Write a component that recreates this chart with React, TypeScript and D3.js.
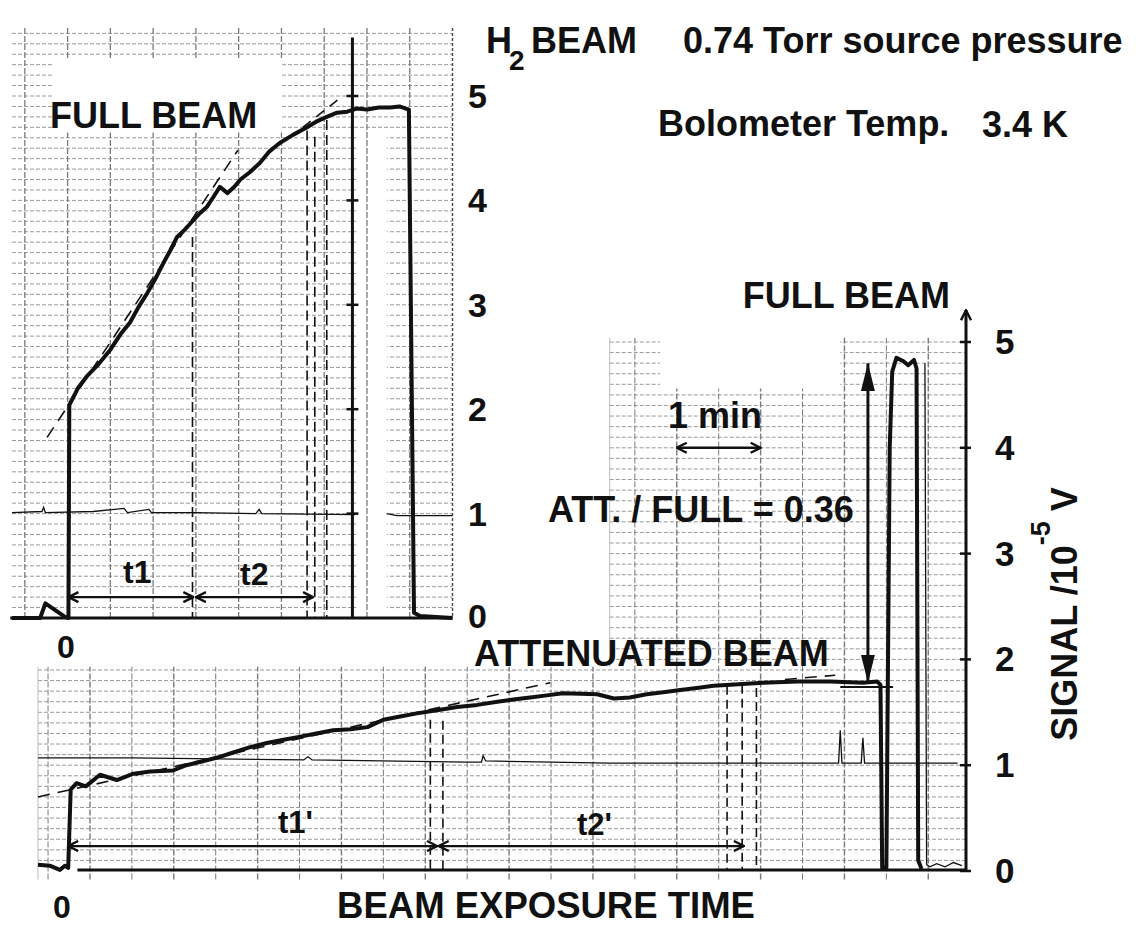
import React, { useEffect, useRef } from 'react';
import * as d3 from 'd3';

// Upper record (full beam): time in chart minutes, signal in 10^-5 V
const fullTime = [-0.65, -0.32, -0.26, -0.03, 0.01, 0.02, 0.12, 0.23, 0.36, 0.5, 0.62, 0.73, 0.83, 0.93, 1.02, 1.12, 1.2, 1.28, 1.37, 1.47, 1.55, 1.63, 1.71, 1.78, 1.87, 1.95, 2.02, 2.13, 2.25, 2.36, 2.48, 2.64, 2.8, 2.92, 3.03, 3.15, 3.27, 3.38, 3.5, 3.64, 3.77, 3.88, 3.99, 4.05, 4.12, 4.5];
const fullSignal = [0, 0, 0.14, 0.01, 0, 2.04, 2.2, 2.32, 2.43, 2.57, 2.72, 2.83, 2.98, 3.11, 3.24, 3.4, 3.52, 3.65, 3.72, 3.81, 3.88, 3.94, 4.04, 4.13, 4.07, 4.13, 4.2, 4.27, 4.36, 4.47, 4.55, 4.63, 4.7, 4.76, 4.8, 4.84, 4.85, 4.88, 4.87, 4.89, 4.89, 4.9, 4.87, 0.05, 0.02, 0];

// thin reference pen on the upper record
const fullRefTime = [-0.65, -0.3, -0.28, -0.26, 0.3, 0.66, 0.7, 0.95, 0.98, 1.5, 2.2, 2.24, 2.27, 3.36];
const fullRefSignal = [1.01, 1.02, 1.06, 1.01, 1.02, 1.05, 1.01, 1.04, 1.01, 1.01, 1.0, 1.04, 1.0, 0.99];
const fullRefTime2 = [3.73, 3.85, 4.5];
const fullRefSignal2 = [1.0, 0.98, 0.98];

// dashed fit lines and markers, upper record
const fitTopT = [-0.24, 1.99];
const fitTopV = [1.73, 4.48];
const fitTop2T = [2.75, 3.17];
const fitTop2V = [4.7, 4.97];
const topDashT = [1.46, 2.8, 2.89, 3.03];
const topDashV = [3.65, 4.67, 4.61, 4.77];
const topMarkT = 3.33;
const topTicks = [0, 1, 2, 3, 4, 5];
const t1Span = [0.01, 1.47];
const t2Span = [1.5, 2.87];

// Lower record (attenuated beam, then full beam)
const attTime = [-0.62, -0.48, -0.36, -0.3, -0.26, -0.23, -0.16, -0.05, 0.12, 0.32, 0.52, 0.72, 0.99, 1.15, 1.31, 1.51, 1.71, 1.91, 2.11, 2.31, 2.51, 2.7, 2.9, 3.11, 3.31, 3.5, 3.7, 3.9, 4.14, 4.38, 4.62, 4.86, 5.05, 5.25, 5.45, 5.64, 6.05, 6.25, 6.44, 6.64, 6.84, 7.04, 7.24, 7.44, 7.64, 8.03, 8.44, 8.83, 9.22, 9.39, 9.43, 9.45, 9.5, 9.54, 9.57, 9.62, 9.7, 9.76, 9.83, 9.86, 9.88, 9.92];
const attSignal = [0.06, 0.05, 0.01, 0.05, 0.03, 0.77, 0.83, 0.8, 0.91, 0.86, 0.92, 0.94, 0.95, 1.0, 1.03, 1.07, 1.12, 1.17, 1.21, 1.24, 1.27, 1.3, 1.33, 1.34, 1.36, 1.43, 1.46, 1.49, 1.52, 1.55, 1.57, 1.6, 1.62, 1.64, 1.66, 1.68, 1.67, 1.63, 1.64, 1.67, 1.69, 1.71, 1.73, 1.75, 1.76, 1.78, 1.79, 1.79, 1.78, 1.79, 1.76, 0.03, 0.03, 4.0, 4.72, 4.85, 4.82, 4.78, 4.83, 4.75, 0.1, 0.02];
const retraceTime = [9.96, 9.98, 10.02, 10.1, 10.2, 10.3, 10.4];
const retraceSignal = [4.8, 0.06, 0.04, 0.07, 0.04, 0.08, 0.05];
const attRefTime = [-0.62, 0.5, 1.5, 2.55, 2.6, 2.65, 4.5, 4.67, 4.69, 4.72, 5.5, 6.2, 8.93, 8.95, 8.97, 9.2, 9.22, 9.24, 10.35];
const attRefSignal = [1.07, 1.07, 1.06, 1.05, 1.08, 1.05, 1.03, 1.03, 1.09, 1.04, 1.03, 1.02, 1.02, 1.33, 1.02, 1.02, 1.26, 1.02, 1.02];

const fitBotT = [-0.62, 5.49];
const fitBotV = [0.7, 1.78];
const fitBot2T = [8.29, 8.89];
const fitBot2V = [1.81, 1.85];
const botDashT = [4.06, 4.21, 7.6, 7.78, 7.95];
const botDashV = [1.43, 1.42, 1.75, 1.76, 1.73];
const botTicks = [0, 1, 2, 3, 4, 5];
const t1pSpan = [-0.26, 4.14];
const t2pSpan = [4.16, 7.8];
const minuteSpan = [7, 8];
const ratioArrowT = 9.28;
const ratioArrowV = [1.78, 4.8];
const levelT = [8.95, 9.58];
const levelV = 1.74;

function App() {
  const ref = useRef<SVGSVGElement>(null);

  useEffect(() => {
    if (!ref.current) return;
    const svg = d3.select(ref.current);
    svg.selectAll('*').remove();

    const font = '"Liberation Sans", Arial, Helvetica, sans-serif';
    const ink = '#111';
    const gridH = '#9a9a9a';
    const gridV = '#7a7a7a';

    const xTop = d3.scaleLinear().domain([-0.65, 4.5]).range([12, 452.5]);
    const yTop = d3.scaleLinear().domain([0, 5]).range([618, 96]);
    const xBot = d3.scaleLinear().domain([-0.62, 10.45]).range([38, 966]);
    const yBot = d3.scaleLinear().domain([0, 5]).range([871, 342]);

    svg.append('rect').attr('width', 1142).attr('height', 927).attr('fill', '#fff');

    const defs = svg.append('defs');
    defs.append('marker')
      .attr('id', 'chev').attr('viewBox', '0 0 12 12').attr('refX', 11).attr('refY', 6)
      .attr('markerWidth', 12).attr('markerHeight', 12).attr('markerUnits', 'userSpaceOnUse')
      .attr('orient', 'auto-start-reverse')
      .append('path').attr('d', 'M1,1 L11,6 L1,11').attr('fill', 'none')
      .attr('stroke', ink).attr('stroke-width', 2.4);
    defs.append('marker')
      .attr('id', 'tri').attr('viewBox', '0 0 28 14').attr('refX', 28).attr('refY', 7)
      .attr('markerWidth', 28).attr('markerHeight', 14).attr('markerUnits', 'userSpaceOnUse')
      .attr('orient', 'auto-start-reverse')
      .append('path').attr('d', 'M0,0 L28,7 L0,14 Z').attr('fill', ink);

    const zip = (t: number[], v: number[]) => d3.zip(t, v) as [number, number][];
    const lineTop = d3.line<[number, number]>().x(d => xTop(d[0])).y(d => yTop(d[1]));
    const lineBot = d3.line<[number, number]>().x(d => xBot(d[0])).y(d => yBot(d[1]));

    const label = (x: number, y: number, txt: string, size = 36, anchor = 'start') =>
      svg.append('text').attr('x', x).attr('y', y).attr('text-anchor', anchor)
        .attr('font-family', font).attr('font-weight', 'bold').attr('font-size', size)
        .attr('fill', ink).text(txt);

    // ---------- lower record paper ----------
    const bot = svg.append('g');
    const vSplit = 1.93;
    const uSplit = 6.2;
    bot.selectAll('.hA').data(d3.range(0.1, vSplit, 0.1)).enter().append('line')
      .attr('x1', xBot(-0.62)).attr('x2', xBot(10.45)).attr('y1', d => yBot(d)).attr('y2', d => yBot(d))
      .attr('stroke', gridH).attr('stroke-width', 1).attr('stroke-dasharray', '4 2');
    bot.selectAll('.hB').data(d3.range(2.0, 5.05, 0.1)).enter().append('line')
      .attr('x1', xBot(uSplit)).attr('x2', xBot(10.45)).attr('y1', d => yBot(d)).attr('y2', d => yBot(d))
      .attr('stroke', gridH).attr('stroke-width', 1).attr('stroke-dasharray', '4 2');
    bot.selectAll('.vg').data(d3.range(-0.5, 10.01, 0.5)).enter().append('line')
      .attr('x1', d => xBot(d)).attr('x2', d => xBot(d))
      .attr('y1', yBot(-0.08)).attr('y2', d => yBot(d >= uSplit ? 5.04 : vSplit))
      .attr('stroke', gridV).attr('stroke-width', d => (d % 1 === 0 ? 1.4 : 1))
      .attr('stroke-dasharray', '6 2');
    bot.append('line').attr('x1', xBot(-0.62)).attr('x2', xBot(-0.62))
      .attr('y1', yBot(-0.08)).attr('y2', yBot(vSplit)).attr('stroke', '#bbb');
    bot.append('line').attr('x1', xBot(uSplit)).attr('x2', xBot(uSplit))
      .attr('y1', yBot(vSplit)).attr('y2', yBot(5.04)).attr('stroke', '#bbb');
    bot.append('rect').attr('x', xBot(6.8)).attr('y', yBot(5.06))
      .attr('width', xBot(8.95) - xBot(6.8)).attr('height', yBot(4.56) - yBot(5.06)).attr('fill', '#fff');

    // dashed fits and time markers
    bot.append('path').attr('d', lineBot(zip(fitBotT, fitBotV))).attr('fill', 'none')
      .attr('stroke', ink).attr('stroke-width', 1.6).attr('stroke-dasharray', '12 8');
    bot.append('path').attr('d', lineBot(zip(fitBot2T, fitBot2V))).attr('fill', 'none')
      .attr('stroke', ink).attr('stroke-width', 1.6).attr('stroke-dasharray', '12 8');
    bot.selectAll('.bd').data(zip(botDashT, botDashV)).enter().append('line')
      .attr('x1', d => xBot(d[0])).attr('x2', d => xBot(d[0]))
      .attr('y1', d => yBot(d[1])).attr('y2', yBot(0.02))
      .attr('stroke', ink).attr('stroke-width', 1.6).attr('stroke-dasharray', '9 5');

    // traces
    bot.append('path').attr('d', lineBot(zip(attRefTime, attRefSignal))).attr('fill', 'none')
      .attr('stroke', ink).attr('stroke-width', 1.3);
    bot.append('path').attr('d', lineBot(zip(retraceTime, retraceSignal))).attr('fill', 'none')
      .attr('stroke', ink).attr('stroke-width', 1.3);
    bot.append('path').attr('d', lineBot(zip(attTime, attSignal))).attr('fill', 'none')
      .attr('stroke', ink).attr('stroke-width', 4).attr('stroke-linejoin', 'round');
    bot.append('line').attr('x1', xBot(-0.15)).attr('x2', xBot(10.45))
      .attr('y1', yBot(0.01)).attr('y2', yBot(0.01)).attr('stroke', ink).attr('stroke-width', 3);

    // level marker + ratio arrow
    bot.append('line').attr('x1', xBot(levelT[0])).attr('x2', xBot(levelT[1]))
      .attr('y1', yBot(levelV)).attr('y2', yBot(levelV)).attr('stroke', ink).attr('stroke-width', 2);
    bot.append('line').attr('x1', xBot(ratioArrowT)).attr('x2', xBot(ratioArrowT))
      .attr('y1', yBot(ratioArrowV[0])).attr('y2', yBot(ratioArrowV[1]))
      .attr('stroke', ink).attr('stroke-width', 3)
      .attr('marker-start', 'url(#tri)').attr('marker-end', 'url(#tri)');
    bot.append('line').attr('x1', xBot(minuteSpan[0])).attr('x2', xBot(minuteSpan[1]))
      .attr('y1', yBot(4)).attr('y2', yBot(4)).attr('stroke', ink).attr('stroke-width', 2.6)
      .attr('marker-start', 'url(#chev)').attr('marker-end', 'url(#chev)');
    [t1pSpan, t2pSpan].forEach(s => {
      bot.append('line').attr('x1', xBot(s[0])).attr('x2', xBot(s[1]))
        .attr('y1', yBot(0.236)).attr('y2', yBot(0.236)).attr('stroke', ink).attr('stroke-width', 2.2)
        .attr('marker-start', 'url(#chev)').attr('marker-end', 'url(#chev)');
    });

    // right axis
    bot.append('line').attr('x1', xBot(10.45)).attr('x2', xBot(10.45))
      .attr('y1', yBot(0)).attr('y2', yBot(5.3)).attr('stroke', ink).attr('stroke-width', 3)
      .attr('marker-end', 'url(#chev)');
    bot.selectAll('.bt').data(botTicks).enter().append('line')
      .attr('x1', xBot(10.45) - 6).attr('x2', xBot(10.45) + 5)
      .attr('y1', d => yBot(d)).attr('y2', d => yBot(d)).attr('stroke', ink).attr('stroke-width', 2.5);
    botTicks.forEach(d => label(995, yBot(d) + 12, String(d), 35));

    const sig = svg.append('text').attr('transform', `translate(1077,614) rotate(-90)`)
      .attr('text-anchor', 'middle').attr('font-family', font).attr('font-weight', 'bold')
      .attr('font-size', 36).attr('fill', ink);
    sig.append('tspan').text('SIGNAL /10');
    sig.append('tspan').attr('dy', -27).attr('font-size', 27).text('-5');
    sig.append('tspan').attr('dy', 27).text(' V');

    // ---------- upper record paper ----------
    const top = svg.append('g');
    top.append('rect').attr('x', xTop(-0.65)).attr('y', 28)
      .attr('width', xTop(4.5) - xTop(-0.65)).attr('height', yTop(0) - 28 + 2).attr('fill', '#fff');
    top.selectAll('.h').data(d3.range(0.1, 5.62, 0.1)).enter().append('line')
      .attr('x1', xTop(-0.65)).attr('x2', xTop(4.5)).attr('y1', d => yTop(d)).attr('y2', d => yTop(d))
      .attr('stroke', gridH).attr('stroke-width', 1).attr('stroke-dasharray', '4 2');
    top.append('rect').attr('x', xTop(3.375)).attr('y', yTop(4.62))
      .attr('width', xTop(3.735) - xTop(3.375)).attr('height', yTop(0.02) - yTop(4.62)).attr('fill', '#fff');
    top.selectAll('.v').data(d3.range(-0.5, 4.01, 0.5)).enter().append('line')
      .attr('x1', d => xTop(d)).attr('x2', d => xTop(d)).attr('y1', 28).attr('y2', yTop(0))
      .attr('stroke', gridV).attr('stroke-width', 1.3).attr('stroke-dasharray', '6 2');
    top.append('rect').attr('x', xTop(-0.17)).attr('y', yTop(5.35))
      .attr('width', xTop(2.51) - xTop(-0.17)).attr('height', yTop(4.65) - yTop(5.35)).attr('fill', '#fff');
    // right axis of the upper record
    top.append('line').attr('x1', xTop(4.5)).attr('x2', xTop(4.5)).attr('y1', 28).attr('y2', yTop(0))
      .attr('stroke', '#444').attr('stroke-width', 1.4).attr('stroke-dasharray', '3 2');

    top.append('path').attr('d', lineTop(zip(fitTopT, fitTopV))).attr('fill', 'none')
      .attr('stroke', ink).attr('stroke-width', 1.6).attr('stroke-dasharray', '12 8');
    top.append('path').attr('d', lineTop(zip(fitTop2T, fitTop2V))).attr('fill', 'none')
      .attr('stroke', ink).attr('stroke-width', 1.6).attr('stroke-dasharray', '10 7');
    top.selectAll('.td').data(zip(topDashT, topDashV)).enter().append('line')
      .attr('x1', d => xTop(d[0])).attr('x2', d => xTop(d[0]))
      .attr('y1', d => yTop(d[1])).attr('y2', yTop(0))
      .attr('stroke', ink).attr('stroke-width', 1.6).attr('stroke-dasharray', '10 5');

    // thick marker line with ticks
    top.append('line').attr('x1', xTop(topMarkT)).attr('x2', xTop(topMarkT))
      .attr('y1', yTop(5.56)).attr('y2', yTop(0)).attr('stroke', ink).attr('stroke-width', 3);
    top.selectAll('.mt').data([1, 2, 3, 4, 5]).enter().append('line')
      .attr('x1', xTop(topMarkT) - 6).attr('x2', xTop(topMarkT) + 6)
      .attr('y1', d => yTop(d)).attr('y2', d => yTop(d)).attr('stroke', ink).attr('stroke-width', 2.5);

    top.append('path').attr('d', lineTop(zip(fullRefTime, fullRefSignal))).attr('fill', 'none')
      .attr('stroke', ink).attr('stroke-width', 1.3);
    top.append('path').attr('d', lineTop(zip(fullRefTime2, fullRefSignal2))).attr('fill', 'none')
      .attr('stroke', ink).attr('stroke-width', 1.3);
    top.append('line').attr('x1', xTop(-0.67)).attr('x2', xTop(4.5))
      .attr('y1', yTop(0)).attr('y2', yTop(0)).attr('stroke', ink).attr('stroke-width', 3);
    top.append('path').attr('d', lineTop(zip(fullTime, fullSignal))).attr('fill', 'none')
      .attr('stroke', ink).attr('stroke-width', 4).attr('stroke-linejoin', 'round');

    [t1Span, t2Span].forEach(s => {
      top.append('line').attr('x1', xTop(s[0])).attr('x2', xTop(s[1]))
        .attr('y1', yTop(0.2)).attr('y2', yTop(0.2)).attr('stroke', ink).attr('stroke-width', 2.2)
        .attr('marker-start', 'url(#chev)').attr('marker-end', 'url(#chev)');
    });
    topTicks.forEach(d => label(468, yTop(d) + (d === 0 ? 10 : 12), String(d), 34));

    // ---------- texts ----------
    label(50, 128, 'FULL BEAM');
    label(123, 583, 't1', 32);
    label(240, 585, 't2', 32);
    label(66, 658, '0', 32, 'middle');
    label(62, 918, '0', 32, 'middle');
    label(278, 833, "t1'", 31);
    label(577, 835, "t2'", 31);
    label(486, 53, 'H', 36);
    label(509, 70, '2', 28);
    label(531, 53, 'BEAM', 36);
    label(683, 53, '0.74 Torr source pressure', 36);
    label(658, 136, 'Bolometer Temp.', 36);
    label(982, 137, '3.4 K', 36);
    label(950, 308, 'FULL BEAM', 36, 'end');
    label(668, 428, '1 min', 36);
    label(548, 522, 'ATT. / FULL = 0.36', 36);
    label(474, 666, 'ATTENUATED BEAM', 36);
    label(546, 918, 'BEAM EXPOSURE TIME', 36.5, 'middle');
  }, []);

  return (
    <svg
      ref={ref}
      width={1142}
      height={927}
      style={{ position: 'absolute', left: 0, top: 0, display: 'block' }}
    />
  );
}

export default App;
